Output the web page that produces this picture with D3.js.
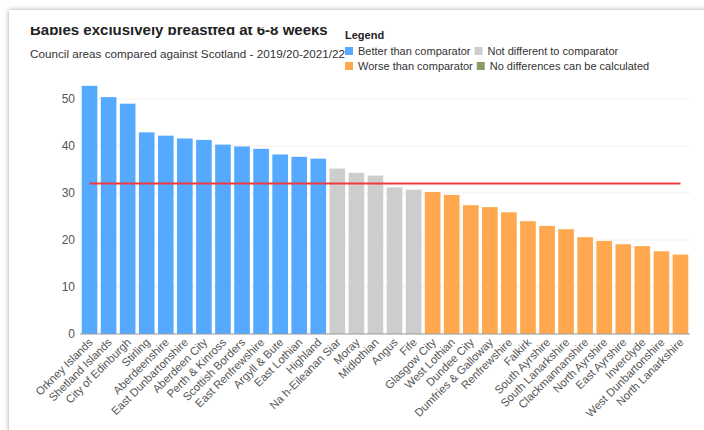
<!DOCTYPE html>
<html>
<head>
<meta charset="utf-8">
<script src="https://cdn.jsdelivr.net/npm/d3@7"></script>
<style>
  html, body { margin: 0; background: #fff; overflow: hidden; font-family: "Liberation Sans", Arial, sans-serif; }
  #card { position: absolute; left: 9px; top: 10px; width: 740px; height: 460px; background: #fff;
          box-shadow: 0 0 5px rgba(0,0,0,0.35); }
  #chart { position: absolute; left: 0; top: 0; }
</style>
</head>
<body>
<div id="card"></div>
<div id="chart"></div>
<script>
// council areas, ordered as in the chart
const councils = ["Orkney Islands", "Shetland Islands", "City of Edinburgh", "Stirling", "Aberdeenshire",
  "East Dunbartonshire", "Aberdeen City", "Perth & Kinross", "Scottish Borders", "East Renfrewshire",
  "Argyll & Bute", "East Lothian", "Highland", "Na h-Eileanan Siar", "Moray", "Midlothian", "Angus",
  "Fife", "Glasgow City", "West Lothian", "Dundee City", "Dumfries & Galloway", "Renfrewshire",
  "Falkirk", "South Ayrshire", "South Lanarkshire", "Clackmannanshire", "North Ayrshire",
  "East Ayrshire", "Inverclyde", "West Dunbartonshire", "North Lanarkshire"];
const values = [52.8, 50.4, 49.0, 42.9, 42.2, 41.6, 41.3, 40.3, 39.9, 39.4, 38.2, 37.7, 37.3,
  35.2, 34.3, 33.7, 31.2, 30.7, 30.2, 29.6, 27.4, 27.0, 25.9, 24.0, 23.0, 22.3, 20.6, 19.8,
  19.1, 18.7, 17.6, 16.9];
// 0 better, 1 not different, 2 worse
const status = [0,0,0,0,0,0,0,0,0,0,0,0,0, 1,1,1,1,1, 2,2,2,2,2,2,2,2,2,2,2,2,2,2];
const scotland = 32.0;
const yTicks = [0, 10, 20, 30, 40, 50];
const legendLabels = ["Better than comparator", "Not different to comparator",
  "Worse than comparator", "No differences can be calculated"];
const colours = ["#55a9ff", "#cdcdcd", "#ffa84f", "#8e9a68"];

const data = councils.map((c, i) => ({ name: c, value: values[i], status: status[i] }));

const W = 704, H = 430;
const svg = d3.select("#chart").append("svg").attr("width", W).attr("height", H)
  .style("font-family", '"Liberation Sans", Arial, sans-serif');

const x = d3.scaleBand().domain(councils).range([80, 690]).paddingInner(0.18).paddingOuter(0.09);
const y = d3.scaleLinear().domain([0, 55]).range([334, 75.5]);

// title, clipped at the top as in the page
svg.append("clipPath").attr("id", "titleclip")
  .append("rect").attr("x", 0).attr("y", 27).attr("width", 340).attr("height", 20);
svg.append("text").attr("x", 30).attr("y", 35).attr("clip-path", "url(#titleclip)")
  .style("font-size", "15px").style("font-weight", "bold").attr("fill", "#222")
  .text("Babies exclusively breastfed at 6-8 weeks");
svg.append("text").attr("x", 30).attr("y", 58)
  .style("font-size", "11.7px").attr("fill", "#333")
  .text("Council areas compared against Scotland - 2019/20-2021/22");

// gridlines
svg.append("g").selectAll("line").data(yTicks.slice(1)).join("line")
  .attr("x1", 80).attr("x2", 690)
  .attr("y1", d => y(d)).attr("y2", d => y(d))
  .attr("stroke", "#efefef");

// y labels
svg.append("g").selectAll("text").data(yTicks).join("text")
  .attr("x", 75).attr("y", d => y(d)).attr("dy", "0.35em")
  .attr("text-anchor", "end").style("font-size", "12px").attr("fill", "#555")
  .text(d => d);

// bars
svg.append("g").selectAll("rect").data(data).join("rect")
  .attr("x", d => x(d.name)).attr("width", x.bandwidth())
  .attr("y", d => y(d.value)).attr("height", d => y(0) - y(d.value))
  .attr("fill", d => colours[d.status]);

// baseline
svg.append("line").attr("x1", 80).attr("x2", 690).attr("y1", y(0)).attr("y2", y(0))
  .attr("stroke", "#999");

// comparator line
svg.append("line")
  .attr("x1", x(councils[0]) + x.bandwidth() / 2)
  .attr("x2", x(councils[councils.length - 1]) + x.bandwidth() / 2)
  .attr("y1", y(scotland)).attr("y2", y(scotland))
  .attr("stroke", "#f23a3a").attr("stroke-width", 2);

// x labels
svg.append("g").selectAll("text").data(councils).join("text")
  .attr("transform", d => `translate(${x(d) + x.bandwidth() / 2 + 4},${y(0) + 9}) rotate(-45)`)
  .attr("text-anchor", "end").style("font-size", "11.3px").attr("fill", "#555")
  .text(d => d);

// legend
const lg = svg.append("g");
lg.append("text").attr("x", 345).attr("y", 38.5).style("font-size", "11px")
  .style("font-weight", "bold").attr("fill", "#222").text("Legend");
[[0, 1], [2, 3]].forEach((row, r) => {
  let cx = 345;
  const by = 55 + r * 15;
  row.forEach(k => {
    lg.append("rect").attr("x", cx).attr("y", by - 8).attr("width", 8).attr("height", 8)
      .attr("fill", colours[k]);
    const t = lg.append("text").attr("x", cx + 13).attr("y", by)
      .style("font-size", "11px").attr("fill", "#333").text(legendLabels[k]);
    cx = cx + 13 + t.node().getComputedTextLength() + 4;
  });
});
</script>
</body>
</html>
